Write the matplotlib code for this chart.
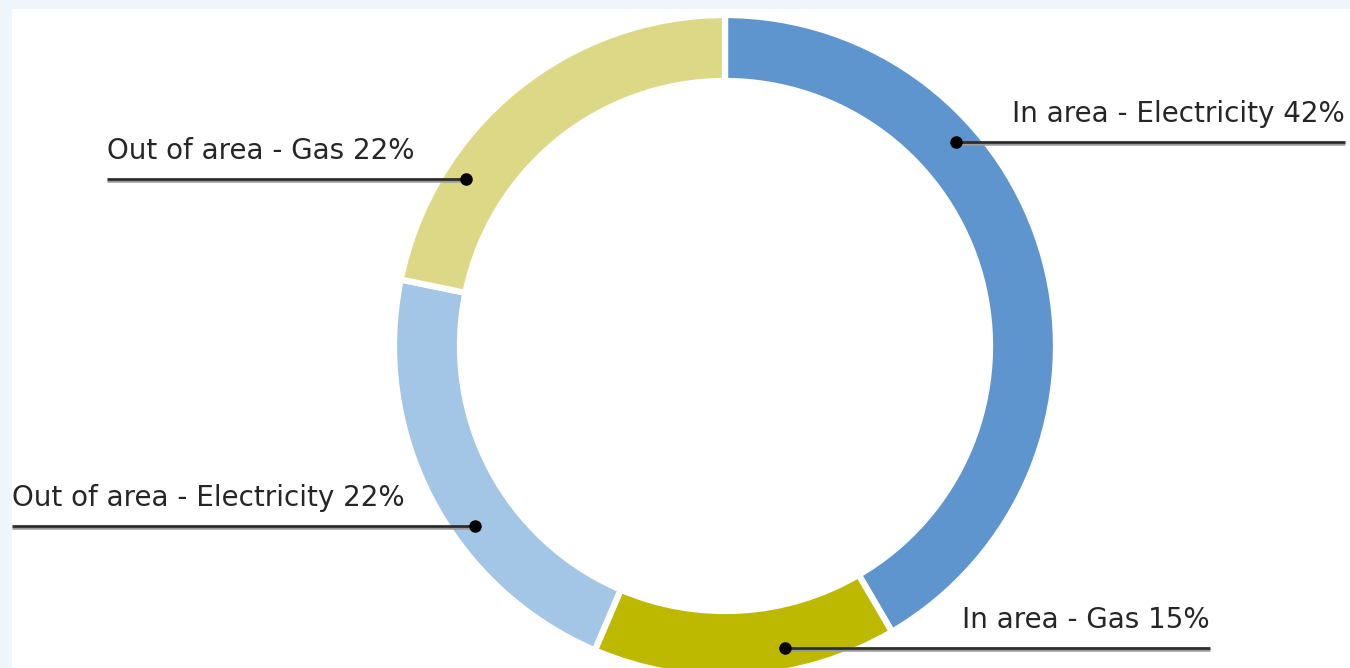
import matplotlib
matplotlib.use("Agg")
import matplotlib.pyplot as plt
import numpy as np
from matplotlib.patches import Rectangle

# ---- data ----
categories = ["In area - Electricity", "In area - Gas",
              "Out of area - Electricity", "Out of area - Gas"]
shares = [42, 15, 22, 22]
colors = ["#5E95CE", "#BDB800", "#A3C5E6", "#DCD885"]

# ---- layout (pixel coordinates, y up) ----
W, H = 1350, 668
cx, cy = 725, 668 - 346
R_out, ring_w = 331, 66
r_dot = 308
# label line: (y of line in px from top, side, line far end x)
label_layout = [
    (142, "right", 1345),
    (648, "right", 1210),
    (526, "left", 12),
    (179, "left", 107),
]

fig = plt.figure(figsize=(W / 100, H / 100), dpi=100, facecolor="#EEF6FC")
ax = fig.add_axes([0, 0, 1, 1])
ax.set_facecolor("#EEF6FC")
ax.add_patch(Rectangle((12, 0), W - 12, H - 9, facecolor="white",
                       edgecolor="none", zorder=0))

wedges, _ = ax.pie(shares, colors=colors, startangle=90, counterclock=False,
                   center=(cx, cy), radius=R_out,
                   wedgeprops=dict(width=ring_w, edgecolor="white",
                                   linewidth=4.5))
for w in wedges:
    w.set_zorder(1)

for cat, val, (ly_top, side, x_end) in zip(categories, shares, label_layout):
    ly = H - ly_top
    dy = ly - cy
    dx = np.sqrt(max(r_dot ** 2 - dy ** 2, 0))
    if side == "right":
        x_dot = cx + dx
        x0, x1 = x_dot, x_end
        tx, ha = x_end, "right"
    else:
        x_dot = cx - dx
        x0, x1 = x_end, x_dot
        tx, ha = x_end, "left"
    # shadow + line
    ax.plot([x0, x1], [ly - 2.2, ly - 2.2], color="#9A9A9A", lw=1.8,
            solid_capstyle="butt", zorder=3)
    ax.plot([x0, x1], [ly, ly], color="#2E2E2E", lw=2.0,
            solid_capstyle="butt", zorder=4)
    ax.plot([x_dot], [ly], "o", color="black", ms=8, zorder=5)
    ax.text(tx, ly + 28, f"{cat} {val}%", ha=ha, va="center",
            fontsize=20, color="#262626", family="DejaVu Sans", zorder=6)

ax.set_xlim(0, W)
ax.set_ylim(0, H)
ax.set_aspect("auto")
ax.axis("off")

fig.savefig("out.png", dpi=100, facecolor=fig.get_facecolor())
